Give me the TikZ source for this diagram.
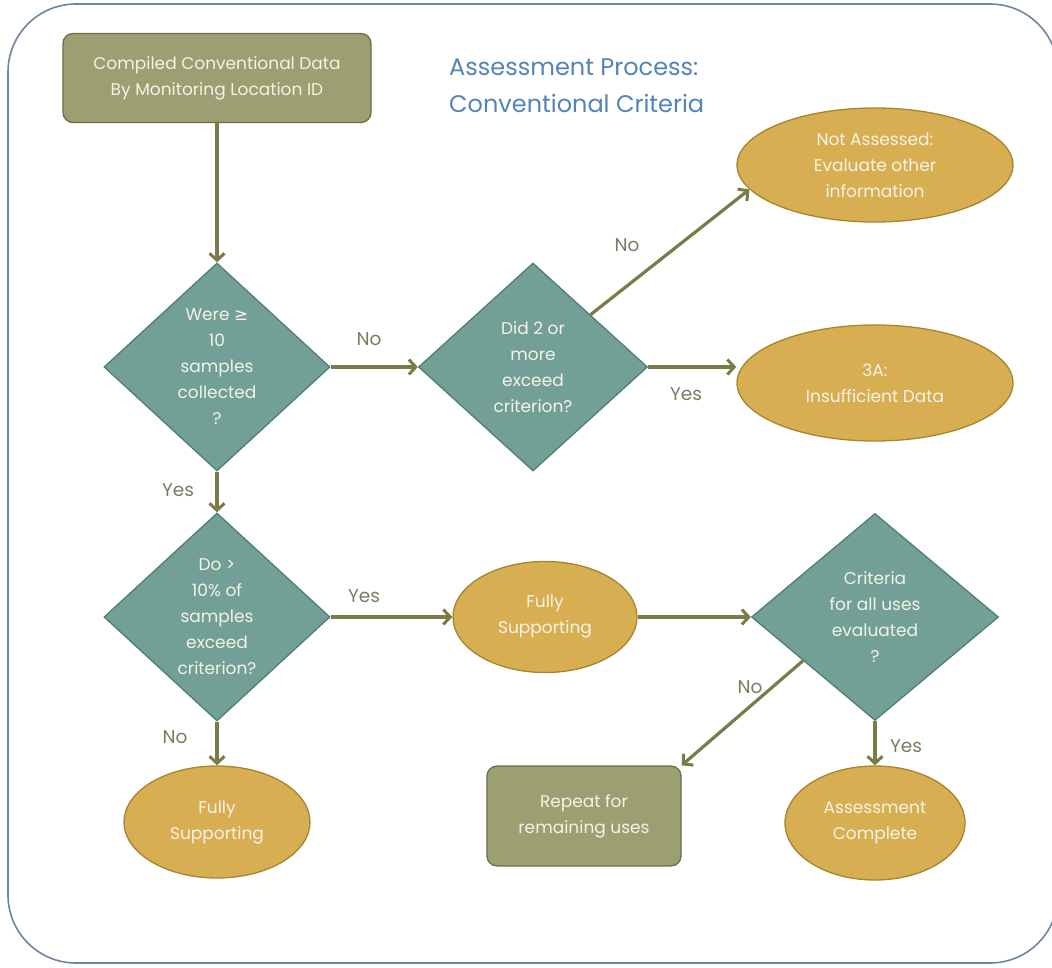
\documentclass[tikz,border=0pt]{standalone}
\usepackage{fontspec}
\setmainfont{Poppins}
\newfontfamily\symfont{DejaVu Sans}
\usetikzlibrary{shapes.geometric,arrows.meta,calc}

\definecolor{framec}{HTML}{6A86A3}
\definecolor{diafill}{HTML}{72A096}
\definecolor{diaedge}{HTML}{4F7E73}
\definecolor{ovalfill}{HTML}{D8AE52}
\definecolor{ovaledge}{HTML}{A7852F}
\definecolor{boxfill}{HTML}{9C9F72}
\definecolor{boxedge}{HTML}{6C6E45}
\definecolor{arrowc}{HTML}{7A7B48}
\definecolor{labc}{HTML}{7B7B60}
\definecolor{inktext}{HTML}{F5F3E6}
\definecolor{titlec}{HTML}{5283B9}

\begin{document}
\begin{tikzpicture}[x=1pt,y=-1pt,
  ntext/.style={text=inktext, align=center, inner sep=0pt,
    font=\fontsize{17}{26}\selectfont},
  dia/.style={shape=diamond, draw=diaedge, fill=diafill, line width=1.3pt,
    inner sep=0pt, minimum width=226pt, minimum height=208pt},
  oval/.style={shape=ellipse, draw=ovaledge, fill=ovalfill, line width=1.3pt,
    inner sep=0pt},
  boxnode/.style={shape=rectangle, rounded corners=10pt, draw=boxedge,
    fill=boxfill, line width=1.3pt, inner sep=0pt},
  arr/.style={draw=arrowc, line width=3.2pt,
    -{Straight Barb[length=7pt,width=15pt,line width=3pt]}},
  lab/.style={text=labc, inner sep=0pt, font=\fontsize{18.5}{20}\selectfont},
  title/.style={text=titlec, align=left, inner sep=0pt,
    font=\fontsize{24}{37}\selectfont}
]
\useasboundingbox (0,0) rectangle (1052,968);

% outer frame
\draw[framec, line width=1.6pt, rounded corners=68pt]
  (8,4) rectangle (1058,963);

% title
\node[title, anchor=west] (title) at (449,86)
  {Assessment Process:\\Conventional Criteria};

% start box
\node[boxnode, minimum width=308pt, minimum height=89pt,
  label={[ntext]center:Compiled Conventional Data\\By Monitoring Location ID}]
  (start) at (217,78) {};

% decisions
\node[dia, label={[ntext]center:Were {\symfont≥}\\10\\samples\\collected\\?}]
  (d1) at (217,367) {};
\node[dia, minimum width=229pt,
  label={[ntext]center:Did 2 or\\more\\exceed\\criterion?}]
  (d2) at (533,367) {};
\node[dia, label={[ntext]center:Do >\\10\% of\\samples\\exceed\\criterion?}]
  (d3) at (217,617) {};
\node[dia, minimum width=247pt, minimum height=207pt,
  label={[ntext]center:Criteria\\for all uses\\evaluated\\?}]
  (d4) at (875,617) {};

% outcomes
\node[oval, minimum width=276pt, minimum height=114pt,
  label={[ntext]center:Not Assessed:\\Evaluate other\\information}]
  (e1) at (875,165) {};
\node[oval, minimum width=276pt, minimum height=116pt,
  label={[ntext]center:3A:\\Insufficient Data}]
  (e2) at (875,383) {};
\node[oval, minimum width=184pt, minimum height=111pt,
  label={[ntext]center:Fully\\Supporting}]
  (e3) at (545,617) {};
\node[oval, minimum width=186pt, minimum height=112pt,
  label={[ntext]center:Fully\\Supporting}]
  (e4) at (217,822) {};
\node[oval, minimum width=180pt, minimum height=114pt,
  label={[ntext]center:Assessment\\Complete}]
  (e5) at (875,823) {};
\node[boxnode, minimum width=194pt, minimum height=100pt,
  label={[ntext]center:Repeat for\\remaining uses}]
  (b2) at (584,816) {};

% connectors
\draw[arr] (start.south) -- (d1.north);
\draw[arr] (d1.east) -- (d2.west);
\draw[arr] (d2.north east) -- (e1.191);
\draw[arr] (d2.east) -- (e2.west |- d2.east);
\draw[arr] (d1.south) -- (d3.north);
\draw[arr] (d3.east) -- (e3.west);
\draw[arr] (d3.south) -- (e4.north);
\draw[arr] (e3.east) -- (d4.west);
\draw[arr] ($(d4.west)!0.42!(d4.south)$) coordinate (d4out) -- (b2.north east);
\draw[arr] (d4.south) -- (e5.north);

% connector labels
\node[lab] (l1) at (369,339) {No};
\node[lab] (l2) at (627,245) {No};
\node[lab] (l3) at (686,394) {Yes};
\node[lab] (l4) at (178,490) {Yes};
\node[lab] (l5) at (364,596) {Yes};
\node[lab] (l6) at (175,737) {No};
\node[lab] (l7) at (750,687) {No};
\node[lab] (l8) at (906,746) {Yes};
\end{tikzpicture}
\end{document}
